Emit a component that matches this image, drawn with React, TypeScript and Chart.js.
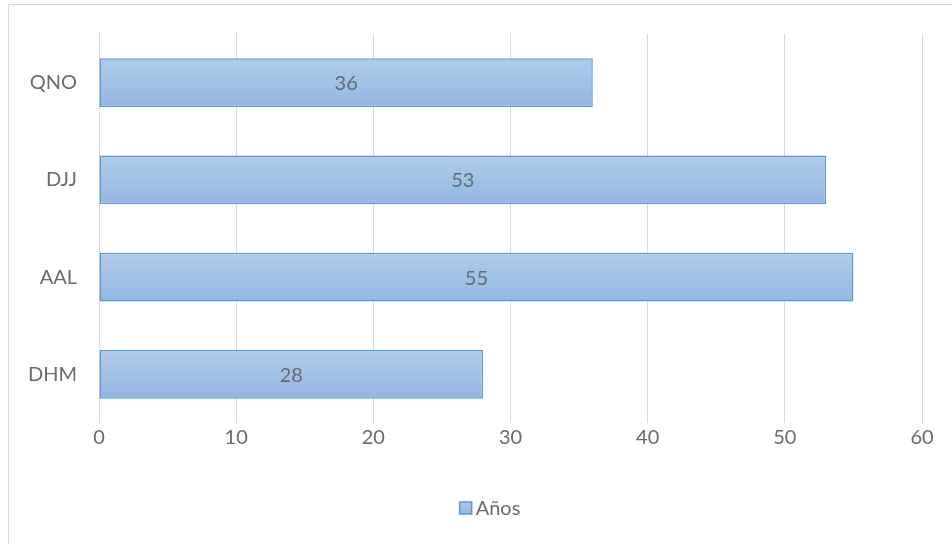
import React, { useEffect, useRef } from "react";
import { Chart, registerables } from "chart.js";

Chart.register(...registerables);

const categories = ["QNO", "DJJ", "AAL", "DHM"];
const anos = [36, 53, 55, 28];
const seriesLabel = "Años";
const xMin = 0;
const xMax = 60;
const xStep = 10;

const FONT = "Lato, 'Open Sans', sans-serif";
const TEXT = "#6b6b6b";
const FILL_TOP = "#b1cbea";
const FILL_BOTTOM = "#93b7e2";
const EDGE = "#5b9bd5";

// Prints each bar's value in the middle of the bar
const centerLabels = {
  id: "centerLabels",
  afterDatasetsDraw(chart: any) {
    const ctx = chart.ctx;
    const meta = chart.getDatasetMeta(0);
    const data = chart.data.datasets[0].data as number[];
    ctx.save();
    ctx.font = `20px ${FONT}`;
    ctx.fillStyle = "#646a73";
    ctx.textAlign = "center";
    ctx.textBaseline = "middle";
    meta.data.forEach((bar: any, i: number) => {
      const { x, y, base } = bar.getProps(["x", "y", "base"], true);
      ctx.fillText(String(data[i]), (x + base) / 2, y + 1);
    });
    ctx.restore();
  },
};

// Single-entry legend under the axis, centred on the chart frame
const bottomLegend = {
  id: "bottomLegend",
  afterDraw(chart: any) {
    const ctx = chart.ctx;
    ctx.save();
    ctx.font = `20px ${FONT}`;
    const box = 12;
    const gap = 4;
    const textW = ctx.measureText(seriesLabel).width;
    const total = box + gap + textW;
    const cx = 490;
    const cy = 508;
    const x0 = cx - total / 2;
    const g = ctx.createLinearGradient(0, cy - box / 2, 0, cy + box / 2);
    g.addColorStop(0, FILL_TOP);
    g.addColorStop(1, FILL_BOTTOM);
    ctx.fillStyle = g;
    ctx.fillRect(x0, cy - box / 2, box, box);
    ctx.strokeStyle = EDGE;
    ctx.lineWidth = 1.5;
    ctx.strokeRect(x0, cy - box / 2, box, box);
    ctx.fillStyle = TEXT;
    ctx.textAlign = "left";
    ctx.textBaseline = "middle";
    ctx.fillText(seriesLabel, x0 + box + gap, cy + 1);
    ctx.restore();
  },
};

export default function App() {
  const canvasRef = useRef<HTMLCanvasElement>(null);

  useEffect(() => {
    const canvas = canvasRef.current!;
    const ctx = canvas.getContext("2d")!;

    // Vertical light-to-darker blue gradient across each bar's own height
    const barFill = (context: any) => {
      const chart = context.chart;
      const yScale = chart.scales && chart.scales.y;
      if (!chart.chartArea || !yScale || context.dataIndex === undefined) return "#a3c1e6";
      const cy = yScale.getPixelForValue(context.dataIndex);
      const half = (chart.chartArea.height / categories.length) * 0.25;
      if (!Number.isFinite(cy) || !Number.isFinite(half)) return "#a3c1e6";
      const g = chart.ctx.createLinearGradient(0, cy - half, 0, cy + half);
      g.addColorStop(0, FILL_TOP);
      g.addColorStop(1, FILL_BOTTOM);
      return g;
    };

    const chart = new Chart(ctx, {
      type: "bar",
      data: {
        labels: categories,
        datasets: [
          {
            label: seriesLabel,
            data: anos,
            backgroundColor: barFill,
            borderColor: EDGE,
            borderWidth: 1.5,
            borderSkipped: false,
            categoryPercentage: 1,
            barPercentage: 0.5,
          },
        ],
      },
      options: {
        indexAxis: "y",
        responsive: false,
        animation: false,
        layout: { padding: { top: 33, right: 30, left: 0, bottom: 0 } },
        scales: {
          x: {
            min: xMin,
            max: xMax,
            border: { display: false },
            grid: { color: "#d9d9d9", lineWidth: 1, drawTicks: false },
            ticks: {
              stepSize: xStep,
              color: TEXT,
              font: { family: FONT, size: 20 },
              padding: 3,
            },
            afterFit(scale: any) {
              scale.height = 121;
            },
          },
          y: {
            border: { display: false },
            grid: { display: false, drawTicks: false },
            ticks: {
              color: TEXT,
              font: { family: FONT, size: 20 },
              padding: 22,
            },
            afterFit(scale: any) {
              scale.width = 99;
            },
          },
        },
        plugins: {
          legend: { display: false },
          tooltip: { enabled: false },
        },
      },
      plugins: [centerLabels, bottomLegend],
    });

    return () => chart.destroy();
  }, []);

  return (
    <div style={{ position: "fixed", left: 0, top: 0, width: 952, height: 544, background: "#fff" }}>
      <div
        style={{
          position: "absolute",
          left: 8,
          top: 4,
          width: 960,
          height: 560,
          border: "1px solid #d9d9d9",
          boxSizing: "border-box",
        }}
      />
      <canvas
        ref={canvasRef}
        width={952}
        height={544}
        style={{ position: "absolute", left: 0, top: 0, width: 952, height: 544 }}
      />
    </div>
  );
}
